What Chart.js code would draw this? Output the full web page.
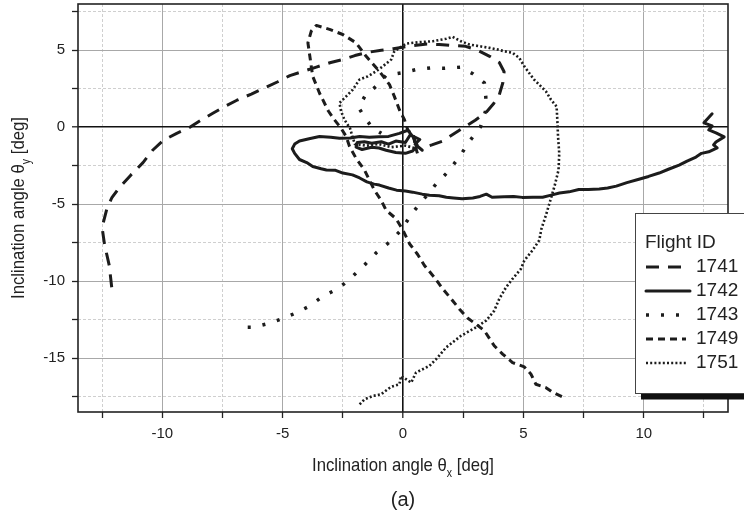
<!DOCTYPE html>
<html><head><meta charset="utf-8">
<script src="https://cdn.jsdelivr.net/npm/chart.js@4.4.0/dist/chart.umd.min.js"></script>
<style>html,body{margin:0;padding:0;background:#fff;} #wrap{width:744px;height:529px;position:relative;}</style>
</head><body><div id="wrap"><canvas id="c" width="744" height="529"></canvas></div>
<script>
// ---- data (theta_x, theta_y) in degrees ----
const flightIds = ['1741','1742','1743','1749','1751'];
const xTickValues = [-12.5,-10,-7.5,-5,-2.5,0,2.5,5,7.5,10,12.5];
const yTickValues = [-17.5,-15,-12.5,-10,-7.5,-5,-2.5,0,2.5,5,7.5];

const flight1741 = [[-12.1,-10.4],[-12.2,-9.0],[-12.4,-7.6],[-12.5,-6.5],[-12.3,-5.3],[-12.1,-4.6],[-11.8,-3.95],[-11.3,-3.1],[-10.8,-2.3],[-10.4,-1.5],[-9.95,-0.85],[-9.4,-0.4],[-8.9,-0.05],[-8.4,0.45],[-7.9,0.9],[-7.4,1.35],[-6.9,1.75],[-6.3,2.15],[-5.75,2.55],[-5.2,2.95],[-4.7,3.35],[-4.1,3.65],[-3.6,3.9],[-3.0,4.2],[-2.5,4.4],[-2.0,4.65],[-1.5,4.85],[-0.9,5.0],[-0.4,5.1],[0.4,5.3],[1.0,5.4],[1.5,5.37],[2.1,5.3],[2.6,5.25],[3.1,5.0],[3.6,4.6],[4.0,4.2],[4.2,3.6],[4.15,2.9],[4.0,2.1],[3.75,1.5],[3.45,0.95],[3.0,0.45],[2.6,0.05],[2.1,-0.45],[1.65,-0.9],[1.2,-1.15],[0.8,-1.35]];

const flight1742 = [[0.8,-1.5],[0.5,-1.1],[0.7,-0.8],[0.3,-0.5],[0.1,-1.0],[-0.3,-0.9],[-0.6,-1.1],[-0.9,-0.95],[-1.3,-1.05],[-1.6,-0.95],[-1.9,-1.0],[-1.95,-1.3],[-1.7,-1.45],[-1.3,-1.3],[-1.0,-1.35],[-0.7,-1.5],[-0.3,-1.65],[0.1,-1.7],[0.4,-1.55],[0.6,-1.2],[0.4,-0.6],[0.2,-0.2],[-0.15,-0.4],[-0.6,-0.6],[-1.0,-0.62],[-1.4,-0.65],[-1.8,-0.6],[-2.2,-0.7],[-2.64,-0.72],[-3.0,-0.65],[-3.47,-0.61],[-3.9,-0.75],[-4.3,-0.9],[-4.5,-1.1],[-4.6,-1.4],[-4.5,-1.7],[-4.3,-2.1],[-4.0,-2.3],[-3.75,-2.55],[-3.4,-2.7],[-3.18,-2.78],[-2.8,-2.8],[-2.5,-2.98],[-2.1,-3.1],[-1.8,-3.3],[-1.5,-3.55],[-1.2,-3.7],[-0.98,-3.76],[-0.6,-3.95],[-0.27,-4.09],[0.1,-4.15],[0.4,-4.22],[0.8,-4.35],[1.1,-4.42],[1.5,-4.45],[1.8,-4.55],[2.1,-4.6],[2.46,-4.65],[2.9,-4.6],[3.2,-4.5],[3.46,-4.35],[3.7,-4.55],[4.2,-4.52],[4.6,-4.5],[4.95,-4.56],[5.4,-4.55],[5.8,-4.55],[6.2,-4.4],[6.5,-4.28],[6.9,-4.2],[7.3,-4.05],[7.7,-4.05],[8.15,-4.02],[8.5,-3.95],[8.86,-3.83],[9.3,-3.6],[9.8,-3.38],[10.2,-3.2],[10.64,-2.98],[11.0,-2.75],[11.47,-2.46],[11.8,-2.2],[12.17,-1.94],[12.4,-1.7],[12.7,-1.6],[13.05,-1.35],[12.9,-1.15],[13.0,-0.96],[13.34,-0.63],[13.0,-0.37],[12.7,-0.18],[12.84,0.08],[12.5,0.28],[12.84,0.87]];

const flight1743 = [[-6.45,-13.0],[-6.24,-13.0],[-5.63,-12.77],[-5.04,-12.45],[-4.54,-12.13],[-3.93,-11.66],[-3.3,-10.96],[-2.68,-10.48],[-2.14,-9.76],[-1.64,-9.02],[-1.1,-8.14],[-0.52,-7.41],[-0.09,-6.7],[0.4,-5.55],[0.9,-4.6],[1.37,-3.7],[1.88,-2.88],[2.37,-1.87],[2.76,-0.92],[3.22,0.02],[3.42,1.0],[3.44,1.95],[3.38,2.87],[2.9,3.47],[2.38,3.9],[1.72,3.82],[1.17,3.85],[0.54,3.74],[-0.02,3.54],[-0.7,3.37],[-1.12,2.65],[-1.57,2.04],[-1.85,1.3],[-1.6,0.65],[-1.27,-0.05],[-0.9,-0.4]];

const flight1749 = [[6.6,-17.5],[6.2,-17.2],[5.94,-16.92],[5.52,-16.7],[5.32,-16.05],[5.04,-15.57],[4.55,-15.29],[4.14,-14.74],[3.79,-14.2],[3.38,-13.22],[3.03,-12.79],[2.68,-12.4],[2.34,-11.81],[2.0,-11.15],[1.65,-10.5],[1.3,-9.75],[0.89,-8.98],[0.61,-8.27],[0.27,-7.57],[0.0,-6.7],[-0.29,-5.94],[-0.7,-5.4],[-0.91,-4.74],[-1.19,-4.09],[-1.6,-2.79],[-1.95,-2.02],[-2.22,-1.26],[-2.36,-0.61],[-2.57,-0.07],[-2.85,0.48],[-3.1,1.05],[-3.47,2.22],[-3.75,3.3],[-3.85,4.39],[-3.95,5.48],[-3.81,6.24],[-3.6,6.61],[-3.05,6.35],[-2.5,6.02],[-1.95,5.48],[-1.53,4.6],[-0.98,3.63],[-0.56,2.76],[-0.36,2.0],[-0.15,1.13],[0.06,0.48],[0.2,-0.18],[0.45,-0.6],[0.5,-1.2],[0.6,-1.7]];

const flight1751 = [[-1.8,-18.0],[-1.6,-17.68],[-1.26,-17.46],[-0.91,-17.35],[-0.49,-16.86],[-0.15,-16.7],[-0.08,-16.16],[0.34,-16.59],[0.54,-15.94],[1.1,-15.5],[1.44,-14.96],[1.79,-14.31],[2.41,-13.55],[3.03,-13.0],[3.45,-12.57],[3.79,-11.92],[4.0,-11.15],[4.28,-10.4],[4.55,-9.85],[4.9,-9.2],[5.04,-8.66],[5.38,-8.0],[5.66,-7.35],[5.75,-6.6],[5.94,-5.7],[6.15,-4.6],[6.3,-3.8],[6.46,-2.79],[6.49,-1.7],[6.44,-0.61],[6.41,0.48],[6.38,1.34],[6.15,1.78],[5.94,2.32],[5.66,2.76],[5.45,3.08],[5.24,3.52],[5.04,3.95],[4.83,4.5],[4.55,4.83],[4.21,4.93],[3.93,5.04],[3.59,5.15],[3.17,5.26],[2.76,5.37],[2.41,5.58],[2.06,5.87],[1.79,5.74],[1.23,5.58],[0.68,5.52],[0.13,5.43],[-0.36,4.93],[-0.49,4.39],[-0.84,3.95],[-1.12,3.63],[-1.46,3.3],[-1.81,3.09],[-2.09,2.43],[-2.36,2.0],[-2.64,1.57],[-2.57,1.02],[-2.43,0.48],[-2.2,-0.07],[-2.1,-0.61],[-2.0,-1.1],[-1.5,-1.2],[-1.0,-1.1],[-0.5,-1.3],[0.1,-1.2],[0.6,-1.4]];

const flightData = [flight1741, flight1742, flight1743, flight1749, flight1751];

// ---- styles ----
const INK = '#1c1c1c';
const FONT = "'Liberation Sans', Arial, sans-serif";
const TFONT = "'Liberation Sans Narrow', 'Liberation Sans', Arial, sans-serif";
const lineStyles = [
  {dash:[13,9], width:3, cap:'butt'},
  {dash:[], width:3, cap:'round'},
  {dash:[3,12], width:3.5, cap:'butt'},
  {dash:[7,5], width:3, cap:'butt'},
  {dash:[2,2.2], width:2.6, cap:'butt'}
];

const datasets = flightIds.map((id,i)=>({
  label: id,
  data: flightData[i].map(p=>({x:p[0], y:p[1]})),
  showLine: true,
  borderColor: INK,
  backgroundColor: INK,
  borderWidth: lineStyles[i].width,
  borderDash: lineStyles[i].dash,
  borderCapStyle: lineStyles[i].cap,
  borderJoinStyle: 'round',
  pointRadius: 0,
  tension: 0,
  fill: false
}));

function gridColor(ctx){
  const v = ctx.tick ? ctx.tick.value : null;
  if (v === 0) return '#111';
  if (v !== null && Math.abs(v % 5) < 1e-9) return '#a8a8a8';
  return '#cfcfcf';
}
function gridWidth(ctx){
  const v = ctx.tick ? ctx.tick.value : null;
  if (v === 0) return 1.6;
  return 1;
}
function gridDash(ctx){
  const v = ctx.tick ? ctx.tick.value : null;
  if (v !== null && Math.abs(v % 5) < 1e-9) return [];
  return [3,2];
}

const decor = {
  id: 'decor',
  afterDraw(chart){
    const ctx = chart.ctx;
    const a = chart.chartArea;
    // frame
    ctx.save();
    ctx.strokeStyle = '#222';
    ctx.lineWidth = 1.6;
    ctx.strokeRect(a.left, a.top, a.right - a.left, a.bottom - a.top);
    ctx.restore();

    // titles
    drawSubTitle(ctx, (a.left + a.right)/2, 471, 'Inclination angle \u03b8', 'x', ' [deg]', 19, false);
    drawSubTitle(ctx, 24, (a.top + a.bottom)/2, 'Inclination angle \u03b8', 'y', ' [deg]', 19, true);
    ctx.save();
    ctx.font = '20px ' + FONT;
    ctx.fillStyle = '#222';
    ctx.textAlign = 'center';
    ctx.textBaseline = 'alphabetic';
    ctx.fillText('(a)', (a.left + a.right)/2, 506);
    ctx.restore();

    // legend
    const bx = 635, by = 213, bw = 130, bh = 180;
    ctx.save();
    ctx.fillStyle = '#111';
    ctx.fillRect(641, by + bh, 110, 6.5);
    ctx.fillStyle = '#fff';
    ctx.fillRect(bx, by, bw, bh);
    ctx.strokeStyle = '#444';
    ctx.lineWidth = 1;
    ctx.strokeRect(bx + 0.5, by + 0.5, bw, bh);
    ctx.fillStyle = '#222';
    ctx.font = '19px ' + FONT;
    ctx.textBaseline = 'middle';
    ctx.textAlign = 'left';
    ctx.fillText('Flight ID', 645, 243);
    chart.data.datasets.forEach((ds, i) => {
      const y = 267 + i * 24;
      ctx.save();
      ctx.strokeStyle = ds.borderColor;
      ctx.lineWidth = ds.borderWidth;
      ctx.setLineDash(ds.borderDash);
      ctx.lineCap = ds.borderCapStyle;
      ctx.beginPath();
      ctx.moveTo(646, y);
      ctx.lineTo(i === 1 ? 690 : 686, y);
      ctx.stroke();
      ctx.restore();
      ctx.fillText(ds.label, 696, y);
    });
    ctx.restore();
  }
};

function drawSubTitle(ctx, x, y, main, sub, rest, size, rotate){
  ctx.save();
  ctx.translate(x, y);
  if (rotate) ctx.rotate(-Math.PI/2);
  ctx.scale(0.88, 1);
  const mainFont = size + 'px ' + TFONT;
  const subFont = Math.round(size*0.62) + 'px ' + TFONT;
  ctx.font = mainFont; const w1 = ctx.measureText(main).width;
  ctx.font = subFont; const w2 = ctx.measureText(sub).width;
  ctx.font = mainFont; const w3 = ctx.measureText(rest).width;
  let cx = -(w1 + w2 + w3)/2;
  ctx.fillStyle = '#222';
  ctx.textAlign = 'left';
  ctx.textBaseline = 'alphabetic';
  ctx.font = mainFont; ctx.fillText(main, cx, 0); cx += w1;
  ctx.font = subFont; ctx.fillText(sub, cx, size*0.3); cx += w2;
  ctx.font = mainFont; ctx.fillText(rest, cx, 0);
  ctx.restore();
}

new Chart(document.getElementById('c'), {
  type: 'scatter',
  data: { datasets },
  options: {
    responsive: false,
    animation: false,
    layout: { padding: { left: 0, right: 16, top: 4, bottom: 0 } },
    plugins: { legend: { display: false }, tooltip: { enabled: false } },
    scales: {
      x: {
        type: 'linear', min: -13.5, max: 13.5,
        afterBuildTicks: s => { s.ticks = xTickValues.map(v => ({value: v})); },
        afterFit: s => { s.height = 117; s.paddingLeft = 0; s.paddingRight = 0; },
        ticks: {
          autoSkip: false, maxRotation: 0, padding: 7, color: '#222',
          font: { family: FONT, size: 15 },
          callback: v => (Math.abs(v % 5) < 1e-9 ? String(v) : '')
        },
        grid: { color: gridColor, lineWidth: gridWidth, tickLength: 6, tickColor: '#222', tickWidth: 1.3, tickBorderDash: [] },
        border: { display: false, dash: gridDash }
      },
      y: {
        type: 'linear', min: -18.5, max: 8,
        afterBuildTicks: s => { s.ticks = yTickValues.map(v => ({value: v})); },
        afterFit: s => { s.width = 78; s.paddingTop = 0; s.paddingBottom = 0; },
        ticks: {
          autoSkip: false, padding: 7, color: '#222',
          font: { family: FONT, size: 15 },
          callback: v => (Math.abs(v % 5) < 1e-9 ? String(v) : '')
        },
        grid: { color: gridColor, lineWidth: gridWidth, tickLength: 6, tickColor: '#222', tickWidth: 1.3, tickBorderDash: [] },
        border: { display: false, dash: gridDash }
      }
    }
  },
  plugins: [decor]
});
</script></body></html>
